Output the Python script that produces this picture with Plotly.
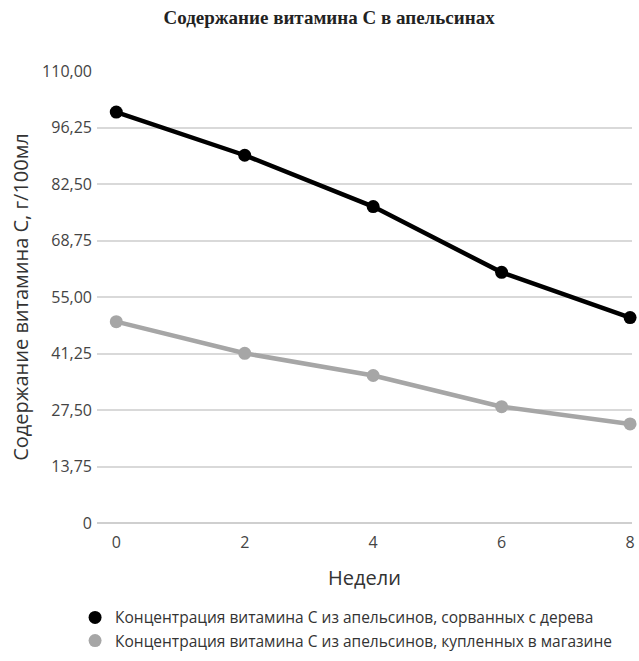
import plotly.graph_objects as go

weeks = [0, 2, 4, 6, 8]
tree = [100.0, 89.5, 77.0, 61.0, 50.0]
store = [49.0, 41.3, 35.9, 28.3, 24.1]
ytick_vals = [0, 13.75, 27.5, 41.25, 55.0, 68.75, 82.5, 96.25, 110.0]
ytick_text = ["0", "13,75", "27,50", "41,25", "55,00", "68,75", "82,50", "96,25", "110,00"]
name_tree = "Концентрация витамина С из апельсинов, сорванных с дерева"
name_store = "Концентрация витамина С из апельсинов, купленных в магазине"

fig = go.Figure()
fig.add_trace(go.Scatter(x=weeks, y=tree, mode="lines+markers", showlegend=False,
                         line=dict(color="#000000", width=4.5),
                         marker=dict(color="#000000", size=13), cliponaxis=False))
fig.add_trace(go.Scatter(x=weeks, y=store, mode="lines+markers", showlegend=False,
                         line=dict(color="#a6a6a6", width=4.5),
                         marker=dict(color="#a6a6a6", size=13), cliponaxis=False))
fig.add_trace(go.Scatter(x=[None], y=[None], mode="markers", name=name_tree,
                         marker=dict(color="#000000", size=13)))
fig.add_trace(go.Scatter(x=[None], y=[None], mode="markers", name=name_store,
                         marker=dict(color="#a6a6a6", size=13)))

fig.update_layout(
    width=639, height=661,
    margin=dict(l=97, r=7, t=71, b=138),
    paper_bgcolor="white", plot_bgcolor="white",
    font=dict(family="Open Sans", color="#333333"),
    title=dict(text="<b>Содержание витамина С в апельсинах</b>",
               font=dict(family="Liberation Serif", size=19, color="#222222"),
               x=0.515, xanchor="center", y=0.973, yanchor="middle"),
    xaxis=dict(range=[-0.3, 8.03], tickvals=weeks, ticktext=[str(w) for w in weeks],
               showgrid=False, zeroline=False, showline=False, automargin=False,
               tickfont=dict(size=16, color="#444444"), ticklabelstandoff=8,
               title=dict(text="Недели", font=dict(size=20, color="#333333"), standoff=18)),
    yaxis=dict(range=[0, 110], tickvals=ytick_vals, ticktext=ytick_text, automargin=False,
               showgrid=True, gridcolor="#d9d9d9", gridwidth=1.5,
               zeroline=True, zerolinecolor="#cfcfcf", zerolinewidth=1.5, showline=False,
               tickfont=dict(size=16, color="#444444"), ticklabelstandoff=4,
               title=dict(text="Содержание витамина С, г/100мл",
                          font=dict(size=20, color="#333333"), standoff=8)),
    legend=dict(x=-0.041, y=0.091, yref="container", xanchor="left", yanchor="top",
                font=dict(size=15.5, color="#333333"), tracegroupgap=0,
                itemwidth=30),
)
fig.write_html("out.html", config={"displayModeBar": False},
               post_script="document.body.style.margin='0';document.body.style.overflow='hidden';")
